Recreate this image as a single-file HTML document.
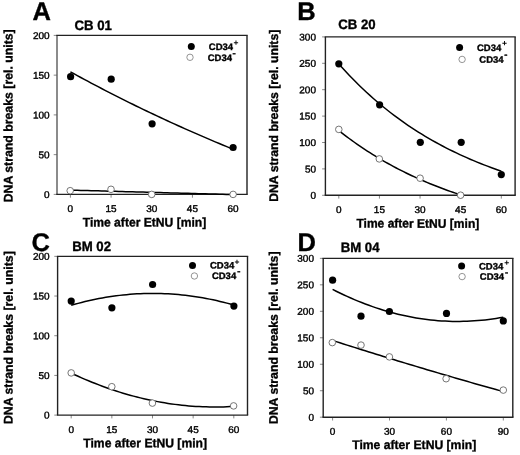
<!DOCTYPE html><html><head><meta charset="utf-8"><style>html,body{margin:0;padding:0;background:#fff;overflow:hidden;}svg{display:block;will-change:transform;}text{font-family:"Liberation Sans", sans-serif;text-rendering:geometricPrecision;}</style></head><body>
<svg width="520" height="455" viewBox="0 0 520 455">
<rect width="520" height="455" fill="#fff"/>
<line x1="53.70" y1="194.40" x2="57.00" y2="194.40" stroke="#888" stroke-width="1.00"/>
<text transform="translate(49.60,197.90) rotate(0.03) scale(1,0.980)" font-size="10.00" fill="#000" text-anchor="end" stroke="#000" stroke-width="0.40">0</text>
<line x1="53.70" y1="154.65" x2="57.00" y2="154.65" stroke="#888" stroke-width="1.00"/>
<text transform="translate(49.60,158.15) rotate(0.03) scale(1,0.980)" font-size="10.00" fill="#000" text-anchor="end" stroke="#000" stroke-width="0.40">50</text>
<line x1="53.70" y1="114.90" x2="57.00" y2="114.90" stroke="#888" stroke-width="1.00"/>
<text transform="translate(49.60,118.40) rotate(0.03) scale(1,0.980)" font-size="10.00" fill="#000" text-anchor="end" stroke="#000" stroke-width="0.40">100</text>
<line x1="53.70" y1="75.15" x2="57.00" y2="75.15" stroke="#888" stroke-width="1.00"/>
<text transform="translate(49.60,78.65) rotate(0.03) scale(1,0.980)" font-size="10.00" fill="#000" text-anchor="end" stroke="#000" stroke-width="0.40">150</text>
<line x1="53.70" y1="35.40" x2="57.00" y2="35.40" stroke="#888" stroke-width="1.00"/>
<text transform="translate(49.60,38.90) rotate(0.03) scale(1,0.980)" font-size="10.00" fill="#000" text-anchor="end" stroke="#000" stroke-width="0.40">200</text>
<line x1="70.40" y1="194.40" x2="70.40" y2="197.70" stroke="#888" stroke-width="1.00"/>
<text transform="translate(70.40,212.00) rotate(0.03) scale(1,0.980)" font-size="10.00" fill="#000" text-anchor="middle" stroke="#000" stroke-width="0.40">0</text>
<line x1="111.08" y1="194.40" x2="111.08" y2="197.70" stroke="#888" stroke-width="1.00"/>
<text transform="translate(111.08,212.00) rotate(0.03) scale(1,0.980)" font-size="10.00" fill="#000" text-anchor="middle" stroke="#000" stroke-width="0.40">15</text>
<line x1="151.75" y1="194.40" x2="151.75" y2="197.70" stroke="#888" stroke-width="1.00"/>
<text transform="translate(151.75,212.00) rotate(0.03) scale(1,0.980)" font-size="10.00" fill="#000" text-anchor="middle" stroke="#000" stroke-width="0.40">30</text>
<line x1="192.43" y1="194.40" x2="192.43" y2="197.70" stroke="#888" stroke-width="1.00"/>
<text transform="translate(192.43,212.00) rotate(0.03) scale(1,0.980)" font-size="10.00" fill="#000" text-anchor="middle" stroke="#000" stroke-width="0.40">45</text>
<line x1="233.10" y1="194.40" x2="233.10" y2="197.70" stroke="#888" stroke-width="1.00"/>
<text transform="translate(233.10,212.00) rotate(0.03) scale(1,0.980)" font-size="10.00" fill="#000" text-anchor="middle" stroke="#000" stroke-width="0.40">60</text>
<line x1="57.00" y1="35.40" x2="57.00" y2="194.40" stroke="#5a5a5a" stroke-width="1.40"/>
<line x1="247.00" y1="35.40" x2="247.00" y2="194.40" stroke="#222" stroke-width="1.40"/>
<line x1="56.30" y1="35.40" x2="247.70" y2="35.40" stroke="#222" stroke-width="1.40"/>
<line x1="56.30" y1="194.40" x2="247.70" y2="194.40" stroke="#222" stroke-width="1.40"/>
<text transform="translate(32.60,20.00) rotate(0.03)" font-size="25.50" fill="#000" font-weight="bold" stroke="#000" stroke-width="0.35">A</text>
<text transform="translate(74.50,30.00) rotate(0.03) scale(1,1.040)" font-size="13.20" fill="#000" font-weight="bold" stroke="#000" stroke-width="0.35">CB 01</text>
<text transform="translate(12.40,202.30) rotate(-89.97) scale(1,1.040)" font-size="12.00" fill="#000" font-weight="bold" stroke="#000" stroke-width="0.35" textLength="173.00" lengthAdjust="spacingAndGlyphs">DNA strand breaks [rel. units]</text>
<text transform="translate(82.70,226.40) rotate(0.03) scale(1,1.040)" font-size="12.00" fill="#000" font-weight="bold" stroke="#000" stroke-width="0.35" textLength="123.60" lengthAdjust="spacingAndGlyphs">Time after EtNU [min]</text>
<path d="M70.40,71.81 L73.86,73.71 L77.32,75.61 L80.79,77.49 L84.25,79.36 L87.71,81.21 L91.17,83.06 L94.63,84.89 L98.09,86.71 L101.56,88.52 L105.02,90.32 L108.48,92.10 L111.94,93.88 L115.40,95.64 L118.86,97.39 L122.33,99.13 L125.79,100.86 L129.25,102.57 L132.71,104.28 L136.17,105.98 L139.63,107.66 L143.10,109.33 L146.56,111.00 L150.02,112.65 L153.48,114.29 L156.94,115.92 L160.40,117.54 L163.87,119.15 L167.33,120.75 L170.79,122.34 L174.25,123.91 L177.71,125.48 L181.17,127.04 L184.64,128.59 L188.10,130.12 L191.56,131.65 L195.02,133.17 L198.48,134.68 L201.94,136.18 L205.41,137.67 L208.87,139.14 L212.33,140.61 L215.79,142.07 L219.25,143.52 L222.71,144.97 L226.18,146.40 L229.64,147.82 L233.10,149.23" fill="none" stroke="#000" stroke-width="1.50" stroke-linejoin="round"/>
<path d="M70.40,190.10 L73.86,190.20 L77.32,190.29 L80.79,190.39 L84.25,190.48 L87.71,190.58 L91.17,190.67 L94.63,190.77 L98.09,190.87 L101.56,190.96 L105.02,191.06 L108.48,191.15 L111.94,191.25 L115.40,191.34 L118.86,191.44 L122.33,191.54 L125.79,191.63 L129.25,191.73 L132.71,191.82 L136.17,191.92 L139.63,192.01 L143.10,192.11 L146.56,192.21 L150.02,192.30 L153.48,192.40 L156.94,192.49 L160.40,192.59 L163.87,192.69 L167.33,192.78 L170.79,192.88 L174.25,192.97 L177.71,193.07 L181.17,193.16 L184.64,193.26 L188.10,193.36 L191.56,193.45 L195.02,193.55 L198.48,193.64 L201.94,193.74 L205.41,193.83 L208.87,193.93 L212.33,194.03 L215.79,194.12 L219.25,194.22 L222.71,194.31 L226.18,194.41 L229.64,194.50 L233.10,194.60" fill="none" stroke="#000" stroke-width="1.50" stroke-linejoin="round"/>
<circle cx="70.60" cy="76.70" r="3.60" fill="#000"/>
<circle cx="111.20" cy="79.20" r="3.60" fill="#000"/>
<circle cx="152.10" cy="123.80" r="3.60" fill="#000"/>
<circle cx="233.10" cy="147.50" r="3.60" fill="#000"/>
<circle cx="70.20" cy="190.70" r="3.30" fill="#fff" stroke="#666" stroke-width="0.90"/>
<circle cx="111.00" cy="189.30" r="3.30" fill="#fff" stroke="#666" stroke-width="0.90"/>
<circle cx="151.70" cy="194.40" r="3.30" fill="#fff" stroke="#666" stroke-width="0.90"/>
<circle cx="233.10" cy="194.40" r="3.30" fill="#fff" stroke="#666" stroke-width="0.90"/>
<line x1="322.10" y1="195.30" x2="325.40" y2="195.30" stroke="#888" stroke-width="1.00"/>
<text transform="translate(316.00,198.80) rotate(0.03) scale(1,0.980)" font-size="10.00" fill="#000" text-anchor="end" stroke="#000" stroke-width="0.40">0</text>
<line x1="322.10" y1="168.90" x2="325.40" y2="168.90" stroke="#888" stroke-width="1.00"/>
<text transform="translate(316.00,172.40) rotate(0.03) scale(1,0.980)" font-size="10.00" fill="#000" text-anchor="end" stroke="#000" stroke-width="0.40">50</text>
<line x1="322.10" y1="142.50" x2="325.40" y2="142.50" stroke="#888" stroke-width="1.00"/>
<text transform="translate(316.00,146.00) rotate(0.03) scale(1,0.980)" font-size="10.00" fill="#000" text-anchor="end" stroke="#000" stroke-width="0.40">100</text>
<line x1="322.10" y1="116.10" x2="325.40" y2="116.10" stroke="#888" stroke-width="1.00"/>
<text transform="translate(316.00,119.60) rotate(0.03) scale(1,0.980)" font-size="10.00" fill="#000" text-anchor="end" stroke="#000" stroke-width="0.40">150</text>
<line x1="322.10" y1="89.70" x2="325.40" y2="89.70" stroke="#888" stroke-width="1.00"/>
<text transform="translate(316.00,93.20) rotate(0.03) scale(1,0.980)" font-size="10.00" fill="#000" text-anchor="end" stroke="#000" stroke-width="0.40">200</text>
<line x1="322.10" y1="63.30" x2="325.40" y2="63.30" stroke="#888" stroke-width="1.00"/>
<text transform="translate(316.00,66.80) rotate(0.03) scale(1,0.980)" font-size="10.00" fill="#000" text-anchor="end" stroke="#000" stroke-width="0.40">250</text>
<line x1="322.10" y1="36.90" x2="325.40" y2="36.90" stroke="#888" stroke-width="1.00"/>
<text transform="translate(316.00,40.40) rotate(0.03) scale(1,0.980)" font-size="10.00" fill="#000" text-anchor="end" stroke="#000" stroke-width="0.40">300</text>
<line x1="338.80" y1="195.30" x2="338.80" y2="198.60" stroke="#888" stroke-width="1.00"/>
<text transform="translate(338.80,213.00) rotate(0.03) scale(1,0.980)" font-size="10.00" fill="#000" text-anchor="middle" stroke="#000" stroke-width="0.40">0</text>
<line x1="379.43" y1="195.30" x2="379.43" y2="198.60" stroke="#888" stroke-width="1.00"/>
<text transform="translate(379.43,213.00) rotate(0.03) scale(1,0.980)" font-size="10.00" fill="#000" text-anchor="middle" stroke="#000" stroke-width="0.40">15</text>
<line x1="420.05" y1="195.30" x2="420.05" y2="198.60" stroke="#888" stroke-width="1.00"/>
<text transform="translate(420.05,213.00) rotate(0.03) scale(1,0.980)" font-size="10.00" fill="#000" text-anchor="middle" stroke="#000" stroke-width="0.40">30</text>
<line x1="460.68" y1="195.30" x2="460.68" y2="198.60" stroke="#888" stroke-width="1.00"/>
<text transform="translate(460.68,213.00) rotate(0.03) scale(1,0.980)" font-size="10.00" fill="#000" text-anchor="middle" stroke="#000" stroke-width="0.40">45</text>
<line x1="501.30" y1="195.30" x2="501.30" y2="198.60" stroke="#888" stroke-width="1.00"/>
<text transform="translate(501.30,213.00) rotate(0.03) scale(1,0.980)" font-size="10.00" fill="#000" text-anchor="middle" stroke="#000" stroke-width="0.40">60</text>
<line x1="325.40" y1="36.90" x2="325.40" y2="195.30" stroke="#222" stroke-width="1.40"/>
<line x1="515.10" y1="36.90" x2="515.10" y2="195.30" stroke="#222" stroke-width="1.40"/>
<line x1="324.70" y1="36.90" x2="515.80" y2="36.90" stroke="#222" stroke-width="1.40"/>
<line x1="324.70" y1="195.30" x2="515.80" y2="195.30" stroke="#222" stroke-width="1.40"/>
<text transform="translate(297.30,20.00) rotate(0.03)" font-size="25.50" fill="#000" font-weight="bold" stroke="#000" stroke-width="0.35">B</text>
<text transform="translate(338.30,29.00) rotate(0.03) scale(1,1.040)" font-size="13.20" fill="#000" font-weight="bold" stroke="#000" stroke-width="0.35">CB 20</text>
<text transform="translate(278.00,201.80) rotate(-89.97) scale(1,1.040)" font-size="12.00" fill="#000" font-weight="bold" stroke="#000" stroke-width="0.35" textLength="172.10" lengthAdjust="spacingAndGlyphs">DNA strand breaks [rel. units]</text>
<text transform="translate(356.40,227.60) rotate(0.03) scale(1,1.040)" font-size="12.00" fill="#000" font-weight="bold" stroke="#000" stroke-width="0.35" textLength="122.90" lengthAdjust="spacingAndGlyphs">Time after EtNU [min]</text>
<path d="M338.80,63.96 L342.26,67.82 L345.71,71.59 L349.17,75.26 L352.63,78.84 L356.09,82.33 L359.54,85.73 L363.00,89.04 L366.46,92.27 L369.92,95.42 L373.37,98.49 L376.83,101.49 L380.29,104.41 L383.75,107.25 L387.20,110.02 L390.66,112.73 L394.12,115.36 L397.58,117.93 L401.03,120.44 L404.49,122.88 L407.95,125.26 L411.41,127.58 L414.86,129.84 L418.32,132.05 L421.78,134.20 L425.24,136.29 L428.69,138.34 L432.15,140.33 L435.61,142.27 L439.07,144.16 L442.52,146.01 L445.98,147.81 L449.44,149.56 L452.90,151.27 L456.35,152.94 L459.81,154.56 L463.27,156.14 L466.73,157.69 L470.18,159.19 L473.64,160.66 L477.10,162.09 L480.56,163.49 L484.01,164.84 L487.47,166.17 L490.93,167.46 L494.39,168.72 L497.84,169.95 L501.30,171.14" fill="none" stroke="#000" stroke-width="1.50" stroke-linejoin="round"/>
<path d="M338.80,130.55 L341.39,132.60 L343.98,134.60 L346.57,136.57 L349.17,138.51 L351.76,140.40 L354.35,142.26 L356.94,144.09 L359.53,145.88 L362.12,147.64 L364.71,149.37 L367.31,151.06 L369.90,152.72 L372.49,154.35 L375.08,155.95 L377.67,157.52 L380.26,159.06 L382.86,160.58 L385.45,162.06 L388.04,163.52 L390.63,164.95 L393.22,166.35 L395.81,167.72 L398.40,169.07 L401.00,170.40 L403.59,171.70 L406.18,172.98 L408.77,174.23 L411.36,175.46 L413.95,176.66 L416.54,177.85 L419.14,179.01 L421.73,180.15 L424.32,181.26 L426.91,182.36 L429.50,183.44 L432.09,184.49 L434.69,185.53 L437.28,186.55 L439.87,187.55 L442.46,188.53 L445.05,189.49 L447.64,190.43 L450.23,191.36 L452.83,192.27 L455.42,193.16 L458.01,194.03 L460.60,194.89" fill="none" stroke="#000" stroke-width="1.50" stroke-linejoin="round"/>
<circle cx="338.80" cy="63.80" r="3.60" fill="#000"/>
<circle cx="379.60" cy="104.80" r="3.60" fill="#000"/>
<circle cx="420.30" cy="142.30" r="3.60" fill="#000"/>
<circle cx="461.20" cy="142.30" r="3.60" fill="#000"/>
<circle cx="501.30" cy="174.60" r="3.60" fill="#000"/>
<circle cx="338.80" cy="129.40" r="3.30" fill="#fff" stroke="#666" stroke-width="0.90"/>
<circle cx="379.30" cy="158.90" r="3.30" fill="#fff" stroke="#666" stroke-width="0.90"/>
<circle cx="420.10" cy="178.20" r="3.30" fill="#fff" stroke="#666" stroke-width="0.90"/>
<circle cx="460.60" cy="195.20" r="3.30" fill="#fff" stroke="#666" stroke-width="0.90"/>
<line x1="54.30" y1="415.10" x2="57.60" y2="415.10" stroke="#888" stroke-width="1.00"/>
<text transform="translate(49.60,418.60) rotate(0.03) scale(1,0.980)" font-size="10.00" fill="#000" text-anchor="end" stroke="#000" stroke-width="0.40">0</text>
<line x1="54.30" y1="375.41" x2="57.60" y2="375.41" stroke="#888" stroke-width="1.00"/>
<text transform="translate(49.60,378.91) rotate(0.03) scale(1,0.980)" font-size="10.00" fill="#000" text-anchor="end" stroke="#000" stroke-width="0.40">50</text>
<line x1="54.30" y1="335.73" x2="57.60" y2="335.73" stroke="#888" stroke-width="1.00"/>
<text transform="translate(49.60,339.23) rotate(0.03) scale(1,0.980)" font-size="10.00" fill="#000" text-anchor="end" stroke="#000" stroke-width="0.40">100</text>
<line x1="54.30" y1="296.04" x2="57.60" y2="296.04" stroke="#888" stroke-width="1.00"/>
<text transform="translate(49.60,299.54) rotate(0.03) scale(1,0.980)" font-size="10.00" fill="#000" text-anchor="end" stroke="#000" stroke-width="0.40">150</text>
<line x1="54.30" y1="256.35" x2="57.60" y2="256.35" stroke="#888" stroke-width="1.00"/>
<text transform="translate(49.60,259.85) rotate(0.03) scale(1,0.980)" font-size="10.00" fill="#000" text-anchor="end" stroke="#000" stroke-width="0.40">200</text>
<line x1="71.20" y1="415.10" x2="71.20" y2="418.40" stroke="#888" stroke-width="1.00"/>
<text transform="translate(71.20,433.00) rotate(0.03) scale(1,0.980)" font-size="10.00" fill="#000" text-anchor="middle" stroke="#000" stroke-width="0.40">0</text>
<line x1="111.85" y1="415.10" x2="111.85" y2="418.40" stroke="#888" stroke-width="1.00"/>
<text transform="translate(111.85,433.00) rotate(0.03) scale(1,0.980)" font-size="10.00" fill="#000" text-anchor="middle" stroke="#000" stroke-width="0.40">15</text>
<line x1="152.50" y1="415.10" x2="152.50" y2="418.40" stroke="#888" stroke-width="1.00"/>
<text transform="translate(152.50,433.00) rotate(0.03) scale(1,0.980)" font-size="10.00" fill="#000" text-anchor="middle" stroke="#000" stroke-width="0.40">30</text>
<line x1="193.15" y1="415.10" x2="193.15" y2="418.40" stroke="#888" stroke-width="1.00"/>
<text transform="translate(193.15,433.00) rotate(0.03) scale(1,0.980)" font-size="10.00" fill="#000" text-anchor="middle" stroke="#000" stroke-width="0.40">45</text>
<line x1="233.80" y1="415.10" x2="233.80" y2="418.40" stroke="#888" stroke-width="1.00"/>
<text transform="translate(233.80,433.00) rotate(0.03) scale(1,0.980)" font-size="10.00" fill="#000" text-anchor="middle" stroke="#000" stroke-width="0.40">60</text>
<line x1="57.60" y1="256.35" x2="57.60" y2="415.10" stroke="#222" stroke-width="1.40"/>
<line x1="247.50" y1="256.35" x2="247.50" y2="415.10" stroke="#222" stroke-width="1.40"/>
<line x1="56.90" y1="256.35" x2="248.20" y2="256.35" stroke="#222" stroke-width="1.40"/>
<line x1="56.90" y1="415.10" x2="248.20" y2="415.10" stroke="#222" stroke-width="1.40"/>
<text transform="translate(31.60,251.00) rotate(0.03)" font-size="25.50" fill="#000" font-weight="bold" stroke="#000" stroke-width="0.35">C</text>
<text transform="translate(72.20,251.00) rotate(0.03) scale(1,1.040)" font-size="13.20" fill="#000" font-weight="bold" stroke="#000" stroke-width="0.35">BM 02</text>
<text transform="translate(12.60,424.10) rotate(-89.97) scale(1,1.040)" font-size="12.00" fill="#000" font-weight="bold" stroke="#000" stroke-width="0.35" textLength="172.90" lengthAdjust="spacingAndGlyphs">DNA strand breaks [rel. units]</text>
<text transform="translate(83.30,447.30) rotate(0.03) scale(1,1.040)" font-size="12.00" fill="#000" font-weight="bold" stroke="#000" stroke-width="0.35" textLength="123.70" lengthAdjust="spacingAndGlyphs">Time after EtNU [min]</text>
<path d="M71.20,305.28 L74.66,304.30 L78.12,303.36 L81.58,302.46 L85.04,301.60 L88.50,300.79 L91.96,300.02 L95.42,299.29 L98.88,298.60 L102.34,297.96 L105.80,297.36 L109.26,296.80 L112.71,296.28 L116.17,295.81 L119.63,295.38 L123.09,294.99 L126.55,294.64 L130.01,294.34 L133.47,294.08 L136.93,293.86 L140.39,293.68 L143.85,293.55 L147.31,293.46 L150.77,293.41 L154.23,293.41 L157.69,293.45 L161.15,293.53 L164.61,293.65 L168.07,293.81 L171.53,294.02 L174.99,294.27 L178.45,294.57 L181.91,294.90 L185.37,295.28 L188.83,295.70 L192.29,296.16 L195.74,296.67 L199.20,297.22 L202.66,297.81 L206.12,298.44 L209.58,299.12 L213.04,299.84 L216.50,300.60 L219.96,301.41 L223.42,302.25 L226.88,303.14 L230.34,304.07 L233.80,305.05" fill="none" stroke="#000" stroke-width="1.50" stroke-linejoin="round"/>
<path d="M71.20,373.12 L74.66,374.73 L78.12,376.30 L81.58,377.83 L85.04,379.32 L88.50,380.78 L91.96,382.19 L95.42,383.57 L98.88,384.90 L102.34,386.20 L105.80,387.46 L109.26,388.68 L112.71,389.86 L116.17,391.00 L119.63,392.10 L123.09,393.16 L126.55,394.18 L130.01,395.16 L133.47,396.11 L136.93,397.01 L140.39,397.88 L143.85,398.70 L147.31,399.49 L150.77,400.24 L154.23,400.95 L157.69,401.62 L161.15,402.25 L164.61,402.84 L168.07,403.39 L171.53,403.90 L174.99,404.38 L178.45,404.81 L181.91,405.21 L185.37,405.56 L188.83,405.88 L192.29,406.16 L195.74,406.39 L199.20,406.59 L202.66,406.75 L206.12,406.87 L209.58,406.96 L213.04,407.00 L216.50,407.00 L219.96,406.96 L223.42,406.89 L226.88,406.77 L230.34,406.62 L233.80,406.43" fill="none" stroke="#000" stroke-width="1.50" stroke-linejoin="round"/>
<circle cx="71.20" cy="301.10" r="3.60" fill="#000"/>
<circle cx="111.90" cy="307.80" r="3.60" fill="#000"/>
<circle cx="152.60" cy="284.50" r="3.60" fill="#000"/>
<circle cx="233.90" cy="306.10" r="3.60" fill="#000"/>
<circle cx="71.20" cy="372.90" r="3.30" fill="#fff" stroke="#666" stroke-width="0.90"/>
<circle cx="111.80" cy="386.70" r="3.30" fill="#fff" stroke="#666" stroke-width="0.90"/>
<circle cx="152.40" cy="403.10" r="3.30" fill="#fff" stroke="#666" stroke-width="0.90"/>
<circle cx="233.60" cy="405.90" r="3.30" fill="#fff" stroke="#666" stroke-width="0.90"/>
<line x1="319.90" y1="417.20" x2="323.20" y2="417.20" stroke="#888" stroke-width="1.00"/>
<text transform="translate(314.00,420.70) rotate(0.03) scale(1,0.980)" font-size="10.00" fill="#000" text-anchor="end" stroke="#000" stroke-width="0.40">0</text>
<line x1="319.90" y1="390.73" x2="323.20" y2="390.73" stroke="#888" stroke-width="1.00"/>
<text transform="translate(314.00,394.23) rotate(0.03) scale(1,0.980)" font-size="10.00" fill="#000" text-anchor="end" stroke="#000" stroke-width="0.40">50</text>
<line x1="319.90" y1="364.25" x2="323.20" y2="364.25" stroke="#888" stroke-width="1.00"/>
<text transform="translate(314.00,367.75) rotate(0.03) scale(1,0.980)" font-size="10.00" fill="#000" text-anchor="end" stroke="#000" stroke-width="0.40">100</text>
<line x1="319.90" y1="337.77" x2="323.20" y2="337.77" stroke="#888" stroke-width="1.00"/>
<text transform="translate(314.00,341.27) rotate(0.03) scale(1,0.980)" font-size="10.00" fill="#000" text-anchor="end" stroke="#000" stroke-width="0.40">150</text>
<line x1="319.90" y1="311.30" x2="323.20" y2="311.30" stroke="#888" stroke-width="1.00"/>
<text transform="translate(314.00,314.80) rotate(0.03) scale(1,0.980)" font-size="10.00" fill="#000" text-anchor="end" stroke="#000" stroke-width="0.40">200</text>
<line x1="319.90" y1="284.83" x2="323.20" y2="284.83" stroke="#888" stroke-width="1.00"/>
<text transform="translate(314.00,288.33) rotate(0.03) scale(1,0.980)" font-size="10.00" fill="#000" text-anchor="end" stroke="#000" stroke-width="0.40">250</text>
<line x1="319.90" y1="258.35" x2="323.20" y2="258.35" stroke="#888" stroke-width="1.00"/>
<text transform="translate(314.00,261.85) rotate(0.03) scale(1,0.980)" font-size="10.00" fill="#000" text-anchor="end" stroke="#000" stroke-width="0.40">300</text>
<line x1="332.60" y1="417.20" x2="332.60" y2="420.50" stroke="#888" stroke-width="1.00"/>
<text transform="translate(332.60,434.80) rotate(0.03) scale(1,0.980)" font-size="10.00" fill="#000" text-anchor="middle" stroke="#000" stroke-width="0.40">0</text>
<line x1="389.50" y1="417.20" x2="389.50" y2="420.50" stroke="#888" stroke-width="1.00"/>
<text transform="translate(389.50,434.80) rotate(0.03) scale(1,0.980)" font-size="10.00" fill="#000" text-anchor="middle" stroke="#000" stroke-width="0.40">30</text>
<line x1="446.40" y1="417.20" x2="446.40" y2="420.50" stroke="#888" stroke-width="1.00"/>
<text transform="translate(446.40,434.80) rotate(0.03) scale(1,0.980)" font-size="10.00" fill="#000" text-anchor="middle" stroke="#000" stroke-width="0.40">60</text>
<line x1="503.30" y1="417.20" x2="503.30" y2="420.50" stroke="#888" stroke-width="1.00"/>
<text transform="translate(503.30,434.80) rotate(0.03) scale(1,0.980)" font-size="10.00" fill="#000" text-anchor="middle" stroke="#000" stroke-width="0.40">90</text>
<line x1="323.20" y1="258.35" x2="323.20" y2="417.20" stroke="#222" stroke-width="1.40"/>
<line x1="512.80" y1="258.35" x2="512.80" y2="417.20" stroke="#222" stroke-width="1.40"/>
<line x1="322.50" y1="258.35" x2="513.50" y2="258.35" stroke="#222" stroke-width="1.40"/>
<line x1="322.50" y1="417.20" x2="513.50" y2="417.20" stroke="#222" stroke-width="1.40"/>
<text transform="translate(297.60,251.00) rotate(0.03)" font-size="25.50" fill="#000" font-weight="bold" stroke="#000" stroke-width="0.35">D</text>
<text transform="translate(340.70,252.00) rotate(0.03) scale(1,1.040)" font-size="13.20" fill="#000" font-weight="bold" stroke="#000" stroke-width="0.35">BM 04</text>
<text transform="translate(277.70,424.10) rotate(-89.97) scale(1,1.040)" font-size="12.00" fill="#000" font-weight="bold" stroke="#000" stroke-width="0.35" textLength="172.60" lengthAdjust="spacingAndGlyphs">DNA strand breaks [rel. units]</text>
<text transform="translate(352.20,448.90) rotate(0.03) scale(1,1.040)" font-size="12.00" fill="#000" font-weight="bold" stroke="#000" stroke-width="0.35" textLength="124.10" lengthAdjust="spacingAndGlyphs">Time after EtNU [min]</text>
<path d="M332.60,289.39 L336.23,291.22 L339.86,293.00 L343.50,294.73 L347.13,296.40 L350.76,298.02 L354.39,299.59 L358.02,301.10 L361.66,302.56 L365.29,303.96 L368.92,305.31 L372.55,306.60 L376.18,307.84 L379.81,309.03 L383.45,310.16 L387.08,311.24 L390.71,312.26 L394.34,313.23 L397.97,314.15 L401.61,315.01 L405.24,315.82 L408.87,316.57 L412.50,317.27 L416.13,317.91 L419.77,318.51 L423.40,319.04 L427.03,319.52 L430.66,319.95 L434.29,320.33 L437.93,320.65 L441.56,320.91 L445.19,321.12 L448.82,321.28 L452.45,321.38 L456.09,321.43 L459.72,321.43 L463.35,321.37 L466.98,321.26 L470.61,321.09 L474.24,320.87 L477.88,320.59 L481.51,320.26 L485.14,319.88 L488.77,319.44 L492.40,318.95 L496.04,318.40 L499.67,317.80 L503.30,317.14" fill="none" stroke="#000" stroke-width="1.50" stroke-linejoin="round"/>
<path d="M332.60,340.46 L336.23,341.63 L339.86,342.79 L343.50,343.94 L347.13,345.10 L350.76,346.25 L354.39,347.40 L358.02,348.54 L361.66,349.68 L365.29,350.82 L368.92,351.95 L372.55,353.08 L376.18,354.21 L379.81,355.34 L383.45,356.46 L387.08,357.58 L390.71,358.69 L394.34,359.80 L397.97,360.91 L401.61,362.02 L405.24,363.12 L408.87,364.22 L412.50,365.31 L416.13,366.40 L419.77,367.49 L423.40,368.58 L427.03,369.66 L430.66,370.74 L434.29,371.81 L437.93,372.89 L441.56,373.95 L445.19,375.02 L448.82,376.08 L452.45,377.14 L456.09,378.20 L459.72,379.25 L463.35,380.30 L466.98,381.34 L470.61,382.39 L474.24,383.43 L477.88,384.46 L481.51,385.49 L485.14,386.52 L488.77,387.55 L492.40,388.57 L496.04,389.59 L499.67,390.61 L503.30,391.62" fill="none" stroke="#000" stroke-width="1.50" stroke-linejoin="round"/>
<circle cx="332.60" cy="280.20" r="3.60" fill="#000"/>
<circle cx="361.00" cy="316.20" r="3.60" fill="#000"/>
<circle cx="389.40" cy="311.50" r="3.60" fill="#000"/>
<circle cx="446.50" cy="313.40" r="3.60" fill="#000"/>
<circle cx="503.30" cy="320.90" r="3.60" fill="#000"/>
<circle cx="332.30" cy="342.60" r="3.30" fill="#fff" stroke="#666" stroke-width="0.90"/>
<circle cx="361.00" cy="345.10" r="3.30" fill="#fff" stroke="#666" stroke-width="0.90"/>
<circle cx="389.40" cy="356.90" r="3.30" fill="#fff" stroke="#666" stroke-width="0.90"/>
<circle cx="446.10" cy="378.70" r="3.30" fill="#fff" stroke="#666" stroke-width="0.90"/>
<circle cx="503.30" cy="390.10" r="3.30" fill="#fff" stroke="#666" stroke-width="0.90"/>
<circle cx="191.30" cy="46.60" r="3.50" fill="#000"/>
<circle cx="190.00" cy="57.30" r="3.20" fill="#fff" stroke="#888" stroke-width="0.90"/>
<text transform="translate(208.80,50.10) rotate(0.03) scale(1,0.980)" font-size="9.50" fill="#000" font-weight="bold" stroke="#000" stroke-width="0.35">CD34</text>
<text transform="translate(207.70,61.10) rotate(0.03) scale(1,0.980)" font-size="9.50" fill="#000" font-weight="bold" stroke="#000" stroke-width="0.35">CD34</text>
<text transform="translate(233.61,45.53) rotate(0.03)" font-size="8.50" fill="#000" font-weight="bold">+</text>
<text transform="translate(232.62,56.36) rotate(0.03)" font-size="9.50" fill="#000" font-weight="bold" stroke="#000" stroke-width="0.35">-</text>
<circle cx="459.60" cy="47.50" r="3.50" fill="#000"/>
<circle cx="462.10" cy="59.40" r="3.20" fill="#fff" stroke="#888" stroke-width="0.90"/>
<text transform="translate(477.00,51.10) rotate(0.03) scale(1,0.980)" font-size="9.50" fill="#000" font-weight="bold" stroke="#000" stroke-width="0.35">CD34</text>
<text transform="translate(479.30,62.70) rotate(0.03) scale(1,0.980)" font-size="9.50" fill="#000" font-weight="bold" stroke="#000" stroke-width="0.35">CD34</text>
<text transform="translate(502.01,45.93) rotate(0.03)" font-size="8.50" fill="#000" font-weight="bold">+</text>
<text transform="translate(504.32,57.66) rotate(0.03)" font-size="9.50" fill="#000" font-weight="bold" stroke="#000" stroke-width="0.35">-</text>
<circle cx="192.50" cy="265.40" r="3.50" fill="#000"/>
<circle cx="194.40" cy="276.00" r="3.20" fill="#fff" stroke="#888" stroke-width="0.90"/>
<text transform="translate(210.00,268.60) rotate(0.03) scale(1,0.980)" font-size="9.50" fill="#000" font-weight="bold" stroke="#000" stroke-width="0.35">CD34</text>
<text transform="translate(211.90,279.00) rotate(0.03) scale(1,0.980)" font-size="9.50" fill="#000" font-weight="bold" stroke="#000" stroke-width="0.35">CD34</text>
<text transform="translate(234.61,264.83) rotate(0.03)" font-size="8.50" fill="#000" font-weight="bold">+</text>
<text transform="translate(237.22,274.16) rotate(0.03)" font-size="9.50" fill="#000" font-weight="bold" stroke="#000" stroke-width="0.35">-</text>
<circle cx="461.60" cy="266.00" r="3.50" fill="#000"/>
<circle cx="462.10" cy="276.60" r="3.20" fill="#fff" stroke="#888" stroke-width="0.90"/>
<text transform="translate(479.00,269.50) rotate(0.03) scale(1,0.980)" font-size="9.50" fill="#000" font-weight="bold" stroke="#000" stroke-width="0.35">CD34</text>
<text transform="translate(479.80,279.80) rotate(0.03) scale(1,0.980)" font-size="9.50" fill="#000" font-weight="bold" stroke="#000" stroke-width="0.35">CD34</text>
<text transform="translate(504.21,265.43) rotate(0.03)" font-size="8.50" fill="#000" font-weight="bold">+</text>
<text transform="translate(505.02,275.46) rotate(0.03)" font-size="9.50" fill="#000" font-weight="bold" stroke="#000" stroke-width="0.35">-</text>
</svg></body></html>
